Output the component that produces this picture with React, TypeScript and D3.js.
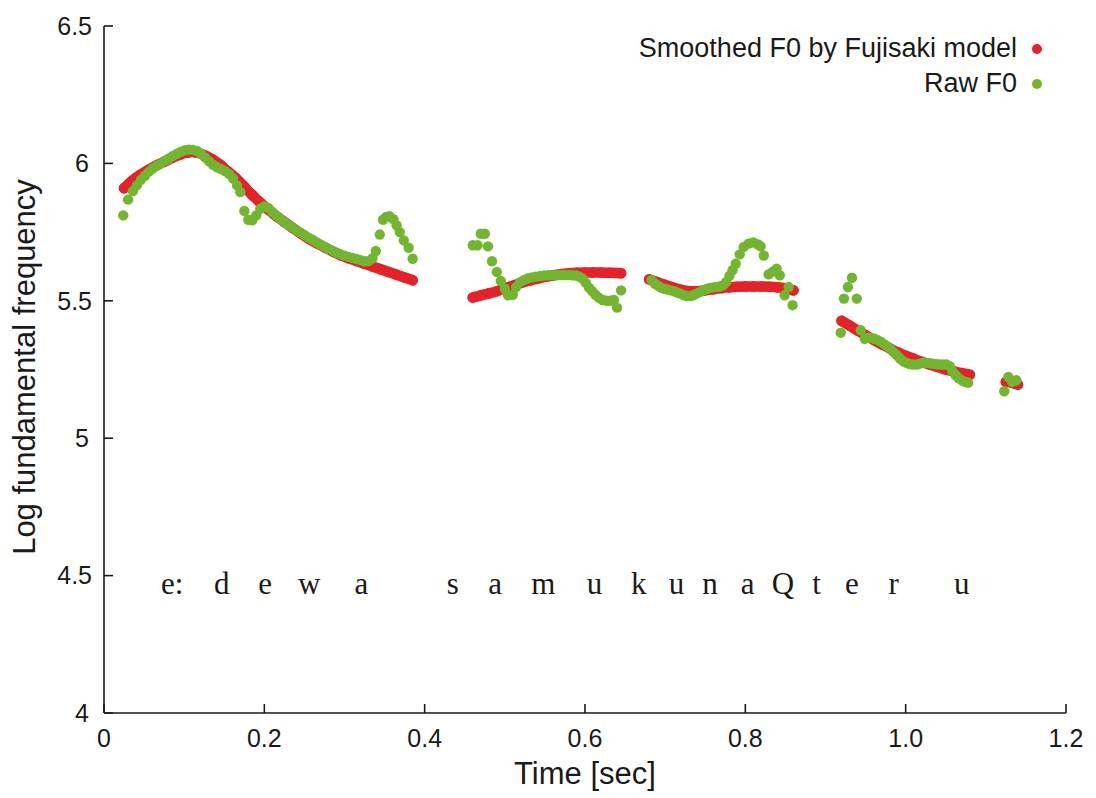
import React from "react";
import * as d3 from "d3";

// ---------- data ----------
const xTicks = [0, 0.2, 0.4, 0.6, 0.8, 1.0, 1.2];
const xTickLabels = ["0", "0.2", "0.4", "0.6", "0.8", "1.0", "1.2"];
const yTicks = [4, 4.5, 5, 5.5, 6, 6.5];
const yTickLabels = ["4", "4.5", "5", "5.5", "6", "6.5"];

type P = [number, number];

const smoothSeg1: P[] = [
  [0.025, 5.91], [0.035, 5.937], [0.045, 5.958], [0.055, 5.976], [0.065, 5.992],
  [0.075, 6.006], [0.085, 6.02], [0.095, 6.032], [0.105, 6.04], [0.115, 6.04],
  [0.125, 6.03], [0.135, 6.015], [0.145, 5.995], [0.155, 5.97], [0.165, 5.945],
  [0.175, 5.915], [0.185, 5.885], [0.195, 5.857], [0.205, 5.832], [0.215, 5.808],
  [0.225, 5.787], [0.235, 5.766], [0.245, 5.746], [0.255, 5.727], [0.265, 5.71],
  [0.275, 5.695], [0.285, 5.68], [0.295, 5.666], [0.305, 5.655], [0.315, 5.645],
  [0.325, 5.635], [0.335, 5.625], [0.345, 5.615], [0.355, 5.605], [0.365, 5.595],
  [0.375, 5.585], [0.385, 5.575],
];
const smoothSeg2: P[] = [
  [0.46, 5.512], [0.47, 5.52], [0.48, 5.527], [0.49, 5.535], [0.5, 5.545],
  [0.51, 5.555], [0.52, 5.565], [0.53, 5.573], [0.54, 5.58], [0.55, 5.587],
  [0.56, 5.592], [0.57, 5.597], [0.58, 5.6], [0.59, 5.602], [0.6, 5.603],
  [0.61, 5.603], [0.62, 5.603], [0.63, 5.602], [0.64, 5.601], [0.645, 5.6],
];
const smoothSeg3: P[] = [
  [0.68, 5.578], [0.69, 5.568], [0.7, 5.558], [0.71, 5.548], [0.72, 5.54],
  [0.73, 5.535], [0.74, 5.535], [0.75, 5.538], [0.76, 5.542], [0.77, 5.546],
  [0.78, 5.549], [0.79, 5.551], [0.8, 5.552], [0.81, 5.552], [0.82, 5.552],
  [0.83, 5.551], [0.84, 5.549], [0.85, 5.545], [0.86, 5.538],
];
const smoothSeg4: P[] = [
  [0.92, 5.427], [0.93, 5.41], [0.94, 5.392], [0.95, 5.375], [0.96, 5.358],
  [0.97, 5.342], [0.98, 5.327], [0.99, 5.313], [1.0, 5.3], [1.01, 5.289],
  [1.02, 5.278], [1.03, 5.268], [1.04, 5.259], [1.05, 5.25], [1.06, 5.243],
  [1.07, 5.237], [1.08, 5.231],
];
const smoothSeg5: P[] = [
  [1.125, 5.205], [1.13, 5.204], [1.135, 5.2], [1.14, 5.195],
];

const rawSeg1: P[] = [
  [0.024, 5.811], [0.03, 5.868], [0.036, 5.899], [0.041, 5.92], [0.046, 5.94],
  [0.051, 5.955], [0.056, 5.97], [0.061, 5.982], [0.066, 5.992], [0.071, 6.0],
  [0.076, 6.01], [0.081, 6.018], [0.086, 6.027], [0.091, 6.035], [0.096, 6.043],
  [0.101, 6.048], [0.106, 6.05], [0.111, 6.049], [0.116, 6.045], [0.121, 6.035],
  [0.126, 6.022], [0.131, 6.008], [0.136, 5.995], [0.141, 5.986], [0.146, 5.979],
  [0.151, 5.972], [0.156, 5.962], [0.161, 5.945], [0.166, 5.92], [0.17, 5.896],
  [0.175, 5.827], [0.18, 5.795], [0.185, 5.793], [0.19, 5.811], [0.195, 5.835],
  [0.2, 5.843], [0.205, 5.838], [0.21, 5.823], [0.215, 5.81], [0.22, 5.798],
  [0.225, 5.787], [0.23, 5.777], [0.235, 5.767], [0.24, 5.757], [0.245, 5.748],
  [0.25, 5.739], [0.255, 5.73], [0.26, 5.722], [0.265, 5.713], [0.27, 5.705],
  [0.275, 5.697], [0.28, 5.689], [0.285, 5.682], [0.29, 5.675], [0.295, 5.669],
  [0.3, 5.664], [0.305, 5.66], [0.31, 5.656], [0.315, 5.652], [0.32, 5.648],
  [0.325, 5.644], [0.33, 5.645], [0.335, 5.655], [0.339, 5.681], [0.344, 5.741],
  [0.348, 5.795], [0.352, 5.805], [0.356, 5.808], [0.361, 5.797], [0.365, 5.775],
  [0.369, 5.75], [0.374, 5.72], [0.38, 5.693], [0.385, 5.653],
];
const rawSeg2: P[] = [
  [0.46, 5.702], [0.466, 5.702], [0.47, 5.744], [0.475, 5.744], [0.479, 5.698],
  [0.484, 5.644], [0.49, 5.605], [0.495, 5.572], [0.5, 5.544], [0.504, 5.52],
  [0.51, 5.522], [0.514, 5.55], [0.519, 5.568], [0.524, 5.576], [0.529, 5.582],
  [0.534, 5.585], [0.539, 5.588], [0.544, 5.59], [0.549, 5.592], [0.554, 5.593],
  [0.559, 5.593], [0.564, 5.593], [0.569, 5.594], [0.574, 5.594], [0.579, 5.594],
  [0.584, 5.593], [0.589, 5.592], [0.593, 5.588], [0.597, 5.58], [0.601, 5.565],
  [0.605, 5.548], [0.609, 5.535], [0.613, 5.522], [0.617, 5.512], [0.622, 5.503],
  [0.627, 5.5], [0.632, 5.5], [0.636, 5.503], [0.64, 5.475], [0.645, 5.538],
];
const rawSeg3: P[] = [
  [0.683, 5.575], [0.687, 5.563], [0.691, 5.555], [0.695, 5.548], [0.699, 5.544],
  [0.703, 5.541], [0.707, 5.538], [0.711, 5.535], [0.715, 5.53], [0.719, 5.526],
  [0.723, 5.521], [0.727, 5.517], [0.732, 5.517], [0.736, 5.522], [0.74, 5.527],
  [0.744, 5.533], [0.748, 5.538], [0.752, 5.543], [0.756, 5.547], [0.76, 5.549],
  [0.764, 5.55], [0.768, 5.552], [0.772, 5.556], [0.776, 5.568], [0.78, 5.59],
  [0.784, 5.611], [0.788, 5.635], [0.793, 5.669], [0.798, 5.696], [0.804, 5.708],
  [0.81, 5.712], [0.816, 5.705], [0.819, 5.698], [0.823, 5.665], [0.829, 5.596],
  [0.834, 5.606], [0.839, 5.617], [0.843, 5.593], [0.849, 5.52], [0.854, 5.55],
  [0.859, 5.484],
];
const rawSeg4: P[] = [
  [0.919, 5.384], [0.923, 5.508], [0.928, 5.55], [0.933, 5.584], [0.939, 5.508],
  [0.944, 5.393], [0.949, 5.362], [0.953, 5.366], [0.957, 5.366], [0.961, 5.362],
  [0.965, 5.357], [0.969, 5.351], [0.973, 5.343], [0.977, 5.334], [0.981, 5.324],
  [0.985, 5.313], [0.989, 5.302], [0.993, 5.29], [0.997, 5.28], [1.001, 5.274],
  [1.005, 5.27], [1.009, 5.268], [1.014, 5.268], [1.018, 5.272], [1.022, 5.275],
  [1.026, 5.274], [1.03, 5.273], [1.034, 5.271], [1.039, 5.269], [1.043, 5.268],
  [1.047, 5.268], [1.051, 5.268], [1.055, 5.262], [1.058, 5.245], [1.062, 5.23],
  [1.066, 5.218], [1.071, 5.209], [1.075, 5.204], [1.078, 5.202],
];
const rawSeg5: P[] = [
  [1.123, 5.171], [1.128, 5.223], [1.133, 5.205], [1.138, 5.211],
];

const phonemeLabels = ["e:", "d", "e", "w", "a", "s", "a", "m", "u", "k", "u", "n", "a", "Q", "t", "e", "r", "u"];
const phonemeTimes = [0.085, 0.147, 0.201, 0.256, 0.321, 0.435, 0.488, 0.548, 0.612, 0.667, 0.714, 0.756, 0.803, 0.847, 0.889, 0.933, 0.985, 1.07];
const phonemeLevel = 4.432;

const legendLabels = ["Smoothed F0 by Fujisaki model", "Raw F0"];

// ---------- styles ----------
const RED = "#e52229";
const GREEN = "#72b62f";
const AXIS = "#1a1a1a";
const SANS = "'Liberation Sans', Arial, Helvetica, sans-serif";
const SERIF = "'Liberation Serif', 'Times New Roman', serif";

export default function App() {
  const W = 1096, H = 798;
  const x = d3.scaleLinear().domain([0, 1.2]).range([104, 1066]);
  const y = d3.scaleLinear().domain([4, 6.5]).range([713, 26]);

  const smoothSegs = [smoothSeg1, smoothSeg2, smoothSeg3, smoothSeg4, smoothSeg5];
  const rawSegs = [rawSeg1, rawSeg2, rawSeg3, rawSeg4, rawSeg5];

  const line = d3
    .line<P>()
    .x((d) => x(d[0]))
    .y((d) => y(d[1]))
    .curve(d3.curveCatmullRom);

  const x0 = x(0), y0 = y(4);

  return (
    <svg
      width={W}
      height={H}
      viewBox={`0 0 ${W} ${H}`}
      style={{ position: "absolute", left: 0, top: 0, background: "#fff" }}
    >
      <rect x={0} y={0} width={W} height={H} fill="#fff" />

      {/* smoothed F0 */}
      <g>
        {smoothSegs.map((seg, i) => (
          <path
            key={"sl" + i}
            d={line(seg) || ""}
            fill="none"
            stroke={RED}
            strokeWidth={10.5}
            strokeLinecap="round"
            strokeLinejoin="round"
          />
        ))}
        {smoothSegs.map((seg, i) =>
          seg.map((d, j) => (
            <circle key={`sc${i}-${j}`} cx={x(d[0])} cy={y(d[1])} r={5.3} fill={RED} />
          ))
        )}
      </g>

      {/* raw F0 */}
      <g>
        {rawSegs.map((seg, i) =>
          seg.map((d, j) => (
            <circle key={`rc${i}-${j}`} cx={x(d[0])} cy={y(d[1])} r={5.2} fill={GREEN} />
          ))
        )}
      </g>

      {/* axes */}
      <g stroke={AXIS} strokeWidth={1.6} fill="none">
        <line x1={x0} y1={y(6.5)} x2={x0} y2={y0} />
        <line x1={x0} y1={y0} x2={x(1.2)} y2={y0} />
        {yTicks.map((t) => (
          <line key={"yt" + t} x1={x0} x2={x0 + 9} y1={y(t)} y2={y(t)} />
        ))}
        {xTicks.map((t) => (
          <line key={"xt" + t} x1={x(t)} x2={x(t)} y1={y0} y2={y0 - 9} />
        ))}
      </g>
      <g fontFamily={SANS} fontSize={25} fill="#1a1a1a">
        {yTicks.map((t, i) => (
          <text
            key={"yl" + t}
            x={yTickLabels[i].includes(".") ? 92 : 89}
            y={y(t)}
            dy="0.35em"
            textAnchor="end"
          >
            {yTickLabels[i]}
          </text>
        ))}
        {xTicks.map((t, i) => (
          <text key={"xl" + t} x={x(t)} y={747} textAnchor="middle">
            {xTickLabels[i]}
          </text>
        ))}
      </g>

      {/* axis titles */}
      <text
        x={585}
        y={784}
        textAnchor="middle"
        fontFamily={SANS}
        fontSize={31}
        fill="#1a1a1a"
      >
        Time [sec]
      </text>
      <text
        transform={`translate(35,367) rotate(-90)`}
        textAnchor="middle"
        fontFamily={SANS}
        fontSize={31}
        fill="#1a1a1a"
      >
        Log fundamental frequency
      </text>

      {/* phoneme labels */}
      <g fontFamily={SERIF} fontSize={31} fill="#1a1a1a">
        {phonemeLabels.map((p, i) => (
          <text key={"ph" + i} x={x(phonemeTimes[i])} y={y(phonemeLevel)} textAnchor="middle">
            {p}
          </text>
        ))}
      </g>

      {/* legend */}
      <g fontFamily={SANS} fontSize={27} fill="#1a1a1a">
        <text x={1017} y={57} textAnchor="end">{legendLabels[0]}</text>
        <circle cx={1037} cy={49} r={5} fill={RED} />
        <text x={1017} y={92} textAnchor="end">{legendLabels[1]}</text>
        <circle cx={1037} cy={84} r={5} fill={GREEN} />
      </g>
    </svg>
  );
}
